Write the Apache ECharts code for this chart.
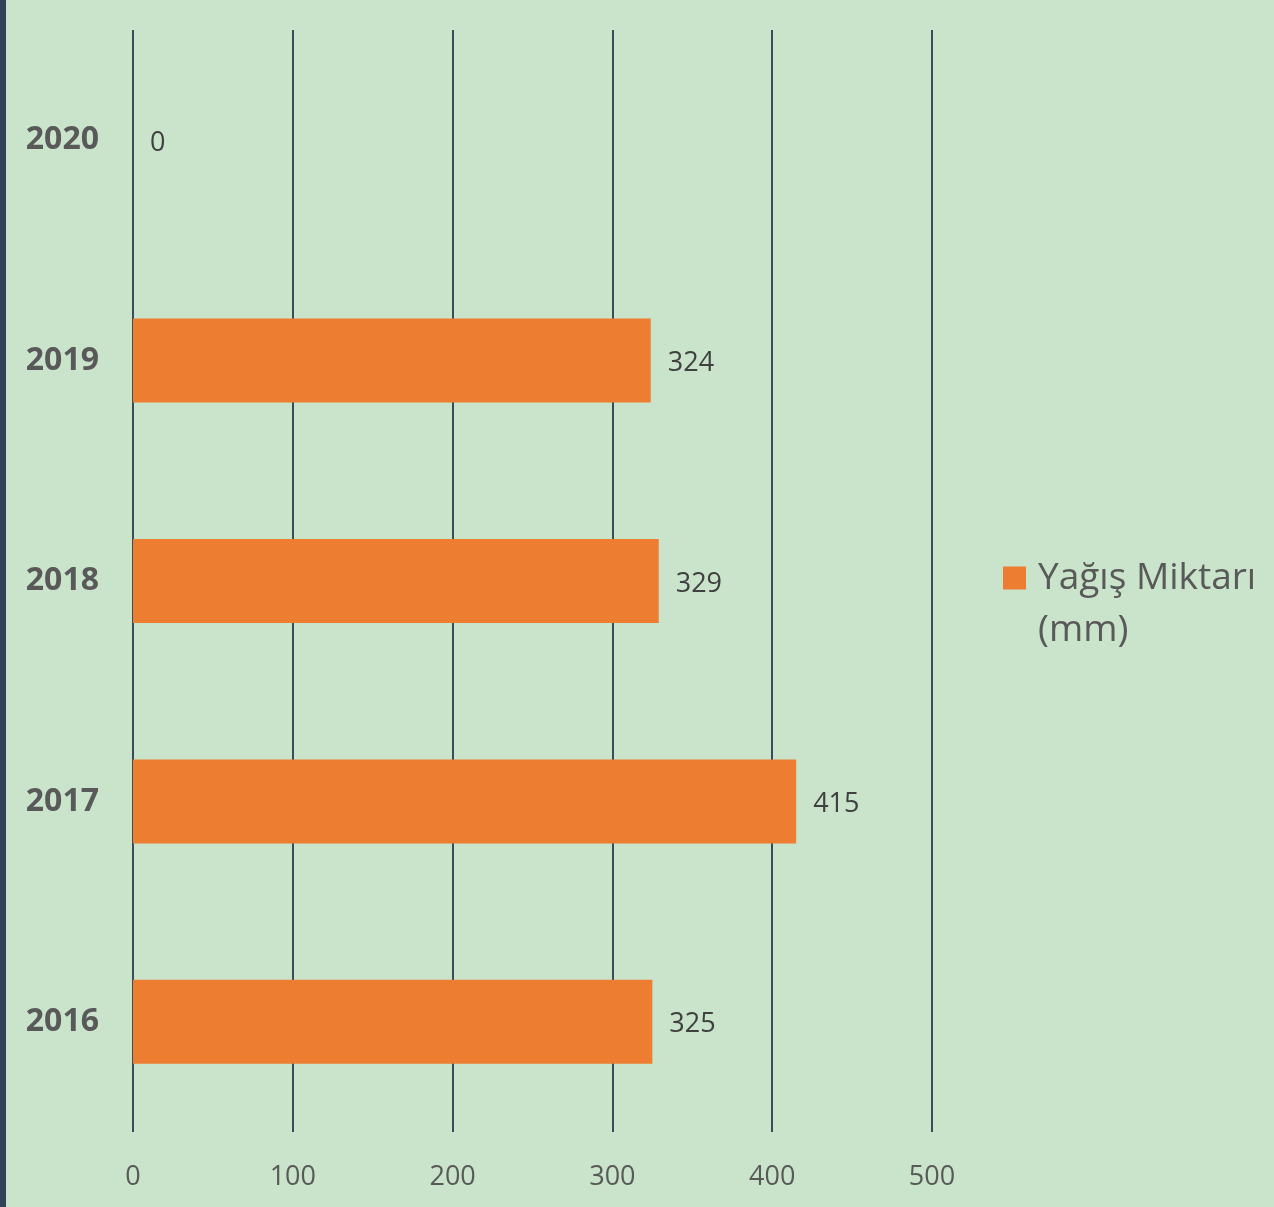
<!DOCTYPE html>
<html>
<head>
<meta charset="utf-8">
<script src="https://cdn.jsdelivr.net/npm/echarts@6/dist/echarts.min.js"></script>
<style>
html,body{margin:0;padding:0;background:#C9E4CB;}
#chart{width:1274px;height:1207px;}
</style>
</head>
<body>
<div id="chart"></div>
<script>
const categories = ['2016', '2017', '2018', '2019', '2020'];
const rainfall = [325, 415, 329, 324, 0];
const seriesName = 'Yağış Miktarı (mm)';
const legendLines = ['Yağış Miktarı', '(mm)'];
const xTicks = [0, 100, 200, 300, 400, 500];

const chart = echarts.init(document.getElementById('chart'), null, {renderer: 'canvas'});
const FONT = '"Open Sans", "Noto Sans", sans-serif';
chart.setOption({
  backgroundColor: '#C9E4CB',
  animation: false,
  graphic: [{
    type: 'rect', left: 0, top: 0,
    shape: {width: 6, height: 1207},
    style: {fill: '#2F4456'}
  }],
  grid: {left: 133, right: 342, top: 30, bottom: 75, containLabel: false},
  legend: {
    data: [seriesName],
    left: 1003, top: 500,
    padding: 0,
    orient: 'vertical',
    itemWidth: 23, itemHeight: 23,
    icon: 'rect',
    formatter: function () {
      return '{s|}\n{t|' + legendLines[0] + '}\n{t|' + legendLines[1] + '}';
    },
    textStyle: {
      fontFamily: FONT, fontSize: 37, color: '#595959', lineHeight: 52,
      rich: {
        s: {fontSize: 37, lineHeight: 52, fontFamily: FONT},
        t: {fontSize: 37, lineHeight: 52, color: '#595959', fontFamily: FONT, padding: [0, 0, 0, 7]}
      }
    }
  },
  xAxis: {
    type: 'value',
    min: xTicks[0], max: xTicks[xTicks.length - 1], interval: 100,
    axisLine: {show: false}, axisTick: {show: false},
    splitLine: {show: true, lineStyle: {color: '#3A4C5B', width: 2}},
    axisLabel: {fontFamily: FONT, fontSize: 27, color: '#595959', margin: 32}
  },
  yAxis: {
    type: 'category',
    data: categories,
    axisLine: {show: false}, axisTick: {show: false},
    axisLabel: {fontFamily: FONT, fontSize: 32, fontWeight: 'bold', color: '#595959', margin: 34}
  },
  series: [{
    name: seriesName,
    type: 'bar',
    data: rainfall,
    barWidth: 84,
    itemStyle: {color: '#ED7D31'},
    label: {
      show: true, position: 'right', distance: 17, offset: [0, 3],
      fontFamily: FONT, fontSize: 27, color: '#404040'
    }
  }]
});
</script>
</body>
</html>
